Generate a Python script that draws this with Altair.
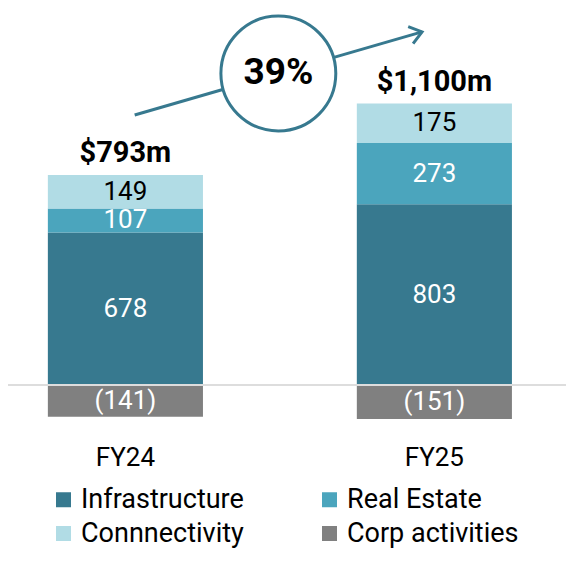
import altair as alt
import pandas as pd

years = ["FY24", "FY25"]
segments = ["Infrastructure", "Real Estate", "Connnectivity", "Corp activities"]
infrastructure = [678, 803]
real_estate = [107, 273]
connectivity = [149, 175]
corp_activities = [-141, -151]
seg_colors = ["#37798f", "#4ba5bd", "#b1dce5", "#808080"]
teal = "#37798f"

# legend reads row by row: Infrastructure, Real Estate / Connnectivity, Corp activities
legend_order = ["Infrastructure", "Connnectivity", "Real Estate", "Corp activities"]
legend_colors = [seg_colors[segments.index(s)] for s in legend_order]

# growth arrow, in data units (x = bar index, y = $m)
arrow_x = [0.03, 0.96]
arrow_y = [1200, 1570]

series = [infrastructure, real_estate, connectivity, corp_activities]
rows = []
for i, year in enumerate(years):
    for k, seg in enumerate(segments):
        rows.append({"year": year, "idx": i, "segment": seg, "order": k, "value": series[k][i]})
bars = pd.DataFrame(rows)

totals = [sum(v) for v in zip(*series)]
tops = [sum(v) for v in zip(infrastructure, real_estate, connectivity)]
growth = round((totals[1] / totals[0] - 1) * 100)
summary = pd.DataFrame({
    "year": years,
    "idx": list(range(len(years))),
    "top": tops,
    "total": [f"${t:,}m" for t in totals],
    "floor": min(corp_activities),
})
arrow = pd.DataFrame({"x": arrow_x, "y": arrow_y})
badge = pd.DataFrame({
    "x": [sum(arrow_x) / 2],
    "y": [sum(arrow_y) / 2],
    "text": [f"{growth}%"],
})

x_scale = alt.Scale(domain=[-0.38, 1.426], nice=False, zero=False)
y_scale = alt.Scale(domain=[-756, 1676], nice=False, zero=False)

base = alt.Chart(bars).transform_stack(
    stack="value", groupby=["year"], as_=["v0", "v1"], sort=[alt.SortField("order")]
).transform_calculate(
    x0="datum.idx - 0.251",
    x1="datum.idx + 0.251",
    mid="(datum.v0 + datum.v1) / 2",
    label="datum.value < 0 ? '(' + (-datum.value) + ')' : '' + datum.value",
)

bar_layer = base.mark_bar().encode(
    x=alt.X("x0:Q", scale=x_scale, axis=None),
    x2="x1:Q",
    y=alt.Y("v0:Q", scale=y_scale, axis=None),
    y2="v1:Q",
    color=alt.Color(
        "segment:N",
        scale=alt.Scale(domain=legend_order, range=legend_colors),
        legend=alt.Legend(
            title=None,
            orient="none",
            legendX=42,
            legendY=478,
            columns=2,
            symbolType="square",
            symbolSize=225,
            symbolStrokeWidth=0,
            labelFont="Roboto",
            labelFontSize=27,
            labelColor="black",
            labelOffset=4,
            labelLimit=300,
            rowPadding=6,
            columnPadding=72,
        ),
    ),
)

zero_rule = alt.Chart(pd.DataFrame({"y": [0]})).mark_rule(
    color="#dddddd", strokeWidth=2
).encode(y=alt.Y("y:Q", scale=y_scale))

seg_text = base.mark_text(font="Roboto", fontSize=26).encode(
    x=alt.X("idx:Q", scale=x_scale),
    y=alt.Y("mid:Q", scale=y_scale),
    text="label:N",
    color=alt.condition(
        alt.datum.segment == "Connnectivity", alt.value("black"), alt.value("white")
    ),
)

total_text = alt.Chart(summary).mark_text(
    font="Roboto", fontSize=29, fontWeight="bold", baseline="alphabetic", dy=-13, color="black"
).encode(
    x=alt.X("idx:Q", scale=x_scale),
    y=alt.Y("top:Q", scale=y_scale),
    text="total:N",
)

year_text = alt.Chart(summary).mark_text(
    font="Roboto", fontSize=26, baseline="alphabetic", dy=47, color="black"
).encode(
    x=alt.X("idx:Q", scale=x_scale),
    y=alt.Y("floor:Q", scale=y_scale),
    text="year:N",
)

arrow_line = alt.Chart(arrow).mark_line(color=teal, strokeWidth=3).encode(
    x=alt.X("x:Q", scale=x_scale),
    y=alt.Y("y:Q", scale=y_scale),
)

arrow_head = alt.Chart(arrow.tail(1)).mark_point(
    shape="M -1 -0.75 L 0 0 L -1 0.75",
    filled=False,
    size=560,
    angle=344,
    color=teal,
    strokeWidth=3,
    opacity=1,
).encode(
    x=alt.X("x:Q", scale=x_scale),
    y=alt.Y("y:Q", scale=y_scale),
)

badge_circle = alt.Chart(badge).mark_point(
    shape="circle",
    filled=True,
    fill="white",
    stroke=teal,
    strokeWidth=3,
    size=13200,
    opacity=1,
).encode(
    x=alt.X("x:Q", scale=x_scale),
    y=alt.Y("y:Q", scale=y_scale),
)

badge_text = alt.Chart(badge).mark_text(
    font="Roboto", fontSize=37, fontWeight="bold", color="black"
).encode(
    x=alt.X("x:Q", scale=x_scale),
    y=alt.Y("y:Q", scale=y_scale),
    text="text:N",
)

chart = (
    alt.layer(
        bar_layer, zero_rule, seg_text, total_text, year_text,
        arrow_line, arrow_head, badge_circle, badge_text,
    )
    .properties(
        width=558, height=547, padding=0, background="white",
        autosize=alt.AutoSizeParams(type="none"),
    )
    .configure_view(stroke="transparent", strokeWidth=0)
)

chart.save("out.html", embed_options={"renderer": "svg", "actions": False})
